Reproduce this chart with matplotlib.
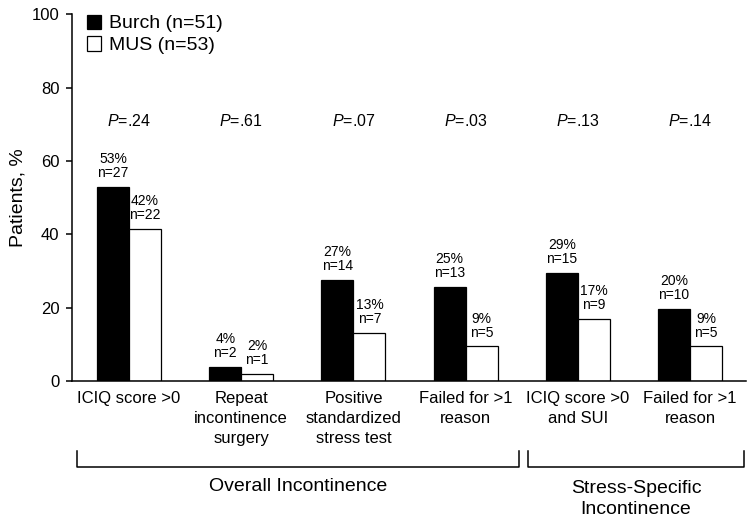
"""Burch vs MUS incontinence outcomes bar chart."""

import matplotlib

matplotlib.use("Agg")
import matplotlib.pyplot as plt
import matplotlib.transforms as mtransforms
import numpy as np

plt.rcParams["font.family"] = ["Liberation Sans", "DejaVu Sans"]
plt.rcParams["mathtext.fontset"] = "custom"
plt.rcParams["mathtext.it"] = "Liberation Sans:italic"
plt.rcParams["mathtext.rm"] = "Liberation Sans"

categories = [
    "ICIQ score >0",
    "Repeat\nincontinence\nsurgery",
    "Positive\nstandardized\nstress test",
    "Failed for >1\nreason",
    "ICIQ score >0\nand SUI",
    "Failed for >1\nreason",
]
burch_pct = [52.9, 3.9, 27.5, 25.5, 29.4, 19.6]
mus_pct = [41.5, 1.9, 13.2, 9.4, 17.0, 9.4]
burch_labels = ["53%\nn=27", "4%\nn=2", "27%\nn=14", "25%\nn=13", "29%\nn=15", "20%\nn=10"]
mus_labels = ["42%\nn=22", "2%\nn=1", "13%\nn=7", "9%\nn=5", "17%\nn=9", "9%\nn=5"]
p_values = [".24", ".61", ".07", ".03", ".13", ".14"]
groups = [("Overall Incontinence", 0, 3), ("Stress-Specific\nIncontinence", 4, 5)]

fig = plt.figure(figsize=(7.54, 5.24), dpi=100)
ax = fig.add_axes([0.0955, 0.273, 0.894, 0.700])

x = np.arange(len(categories))
width = 0.285
b1 = ax.bar(x - width / 2, burch_pct, width, color="black", edgecolor="black",
            linewidth=0.9, label="Burch (n=51)")
b2 = ax.bar(x + width / 2, mus_pct, width, color="white", edgecolor="black",
            linewidth=0.9, label="MUS (n=53)")

for bars, labels in ((b1, burch_labels), (b2, mus_labels)):
    for rect, lab in zip(bars, labels):
        ax.annotate(lab, (rect.get_x() + rect.get_width() / 2, rect.get_height()),
                    xytext=(0, 5), textcoords="offset points", ha="center",
                    va="bottom", fontsize=10, linespacing=1.0)

for xi, p in zip(x, p_values):
    ax.text(xi, 71, r"$\mathit{P}$=" + p, ha="center", va="center", fontsize=11.5)

ax.set_xlim(-0.508, 5.5)
ax.set_ylim(0, 100)
ax.set_yticks(range(0, 101, 20))
ax.set_xticks(x)
ax.set_xticklabels(categories, fontsize=12, linespacing=1.45)
ax.tick_params(axis="x", length=0, pad=7)
ax.tick_params(axis="y", length=4, width=1.1, labelsize=12, pad=5)
ax.set_ylabel("Patients, %", fontsize=14)
ax.yaxis.set_label_coords(-0.067, 0.5)

for side in ("top", "right"):
    ax.spines[side].set_visible(False)
for side in ("left", "bottom"):
    ax.spines[side].set_linewidth(1.1)

ax.legend(loc="upper left", bbox_to_anchor=(0.01, 1.02), frameon=False,
          fontsize=14, handlelength=0.75, handleheight=0.75, handletextpad=0.4,
          labelspacing=0.2, borderaxespad=0)

# group brackets under the tick labels
trans = mtransforms.blended_transform_factory(ax.transData, ax.transAxes)
extents = {0: (-0.463, 3.476), 1: (3.556, 5.48)}
for i, (name, lo, hi) in enumerate(groups):
    x0, x1 = extents[i]
    ax.plot([x0, x0, x1, x1], [-0.191, -0.234, -0.234, -0.191], color="black",
            linewidth=1.1, transform=trans, clip_on=False)
    ypos = -0.289 if "\n" not in name else -0.322
    ax.text((x0 + x1) / 2, ypos, name, ha="center", va="center", fontsize=14,
            transform=trans, linespacing=1.35)

fig.savefig("out.png", dpi=100)
